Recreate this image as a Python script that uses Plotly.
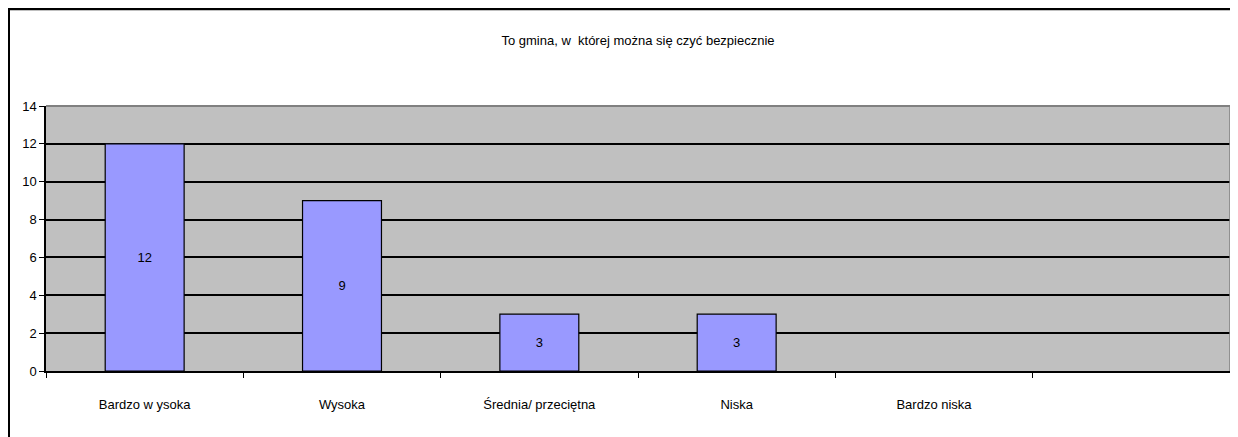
import plotly.graph_objects as go

categories = ["Bardzo w ysoka", "Wysoka", "Średnia/ przeciętna", "Niska", "Bardzo niska"]
values = [12, 9, 3, 3, 0]
title_text = "To gmina, w\u00a0 której można się czyć bezpiecznie"
y_ticks = [0, 2, 4, 6, 8, 10, 12, 14]
n_slots = 6

# page body adds an 8px offset, so the figure is sized to fill the rest
OFF = 8
W, H = 1238 - OFF, 437 - OFF
L, R, T, B = 46 - OFF, 1230 - OFF, 106 - OFF, 371 - OFF

x_pos = list(range(len(categories)))
texts = [str(v) if v else "" for v in values]
line_widths = [1.2 if v else 0 for v in values]

fig = go.Figure(go.Bar(
    x=x_pos, y=values, width=0.4,
    marker=dict(color="#9999FF", line=dict(color="#000000", width=line_widths)),
    text=texts, textposition="inside", insidetextanchor="middle",
    textfont=dict(family="Liberation Sans, Arial", size=13, color="#000000"),
    cliponaxis=False,
))

def px_x(p):
    return (p - L) / (R - L)

def px_y(p):
    return (B - p) / (B - T)

fig.update_layout(
    width=W, height=H,
    margin=dict(l=L, r=W - R, t=T, b=H - B, autoexpand=False),
    paper_bgcolor="#FFFFFF", plot_bgcolor="#C0C0C0",
    showlegend=False,
    font=dict(family="Liberation Sans, Arial", size=13, color="#000000"),
    title=dict(text=title_text, x=0.5, xref="paper", xanchor="center",
               y=1 - (40 - OFF) / H, yanchor="middle",
               font=dict(size=13, color="#000000")),
)

fig.update_xaxes(
    range=[-0.5, n_slots - 0.5],
    tickvals=x_pos, ticktext=categories,
    ticks="outside", ticklen=21, tickcolor="rgba(0,0,0,0)",
    showgrid=False, zeroline=False,
    showline=True, linecolor="#000000", linewidth=1.5,
    minor=dict(tickvals=[i - 0.5 for i in range(n_slots + 1)],
               ticks="outside", ticklen=5, tickcolor="#000000", tickwidth=1.2,
               showgrid=False),
    tickfont=dict(size=13),
)
fig.update_yaxes(
    range=[0, 14], tickvals=y_ticks,
    ticks="outside", ticklen=5, tickcolor="#000000", tickwidth=1.2,
    showgrid=True, gridcolor="#000000", gridwidth=1.5,
    zeroline=False,
    showline=True, linecolor="#000000", linewidth=1.5,
    tickfont=dict(size=13),
)

# gray top and right borders of plot area
fig.add_shape(type="line", xref="paper", yref="paper", x0=0, x1=1, y0=1, y1=1,
              line=dict(color="#808080", width=2), layer="above")
fig.add_shape(type="line", xref="paper", yref="paper", x0=1, x1=1, y0=0, y1=1,
              line=dict(color="#808080", width=1.5), layer="above")
# outer chart border: only top and left edges are visible in the frame
fig.add_shape(type="line", xref="paper", yref="paper",
              x0=px_x(0), x1=px_x(W + 5), y0=px_y(1), y1=px_y(1),
              line=dict(color="#000000", width=2.5), layer="above")
fig.add_shape(type="line", xref="paper", yref="paper",
              x0=px_x(1), x1=px_x(1), y0=px_y(0), y1=px_y(H + 5),
              line=dict(color="#000000", width=2), layer="above")

fig.write_html("out.html")
